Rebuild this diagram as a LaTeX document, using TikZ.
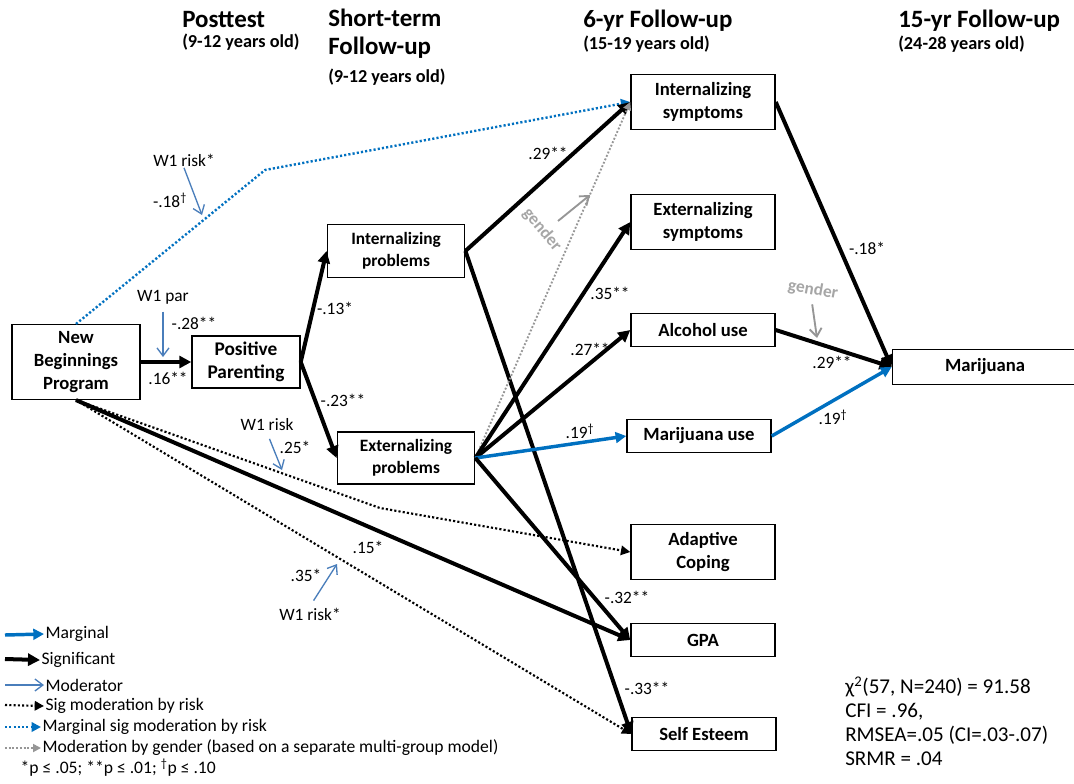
\documentclass[tikz,border=0pt]{standalone}
\usepackage{fontspec}
\setmainfont{Carlito}
\usetikzlibrary{arrows.meta}
\definecolor{margblue}{RGB}{0,112,192}
\definecolor{modblue}{RGB}{74,126,187}
\definecolor{gengray}{RGB}{150,150,150}
\definecolor{gentext}{RGB}{166,166,166}

\begin{document}
\begin{tikzpicture}[x=0.75pt, y=-0.75pt,
    box/.style={draw, line width=1.1pt, align=center, inner sep=2pt,
        font=\fontsize{14}{17}\selectfont\bfseries},
    smallbox/.style={font=\fontsize{13}{16.5}\selectfont\bfseries},
    wide/.style={minimum width=108pt, minimum height=41pt},
    flat/.style={minimum width=108pt, minimum height=25pt},
    coef/.style={font=\fontsize{13}{15}\selectfont, inner sep=1pt},
    modlabel/.style={font=\fontsize{13}{15}\selectfont, inner sep=1pt},
    genlabel/.style={font=\fontsize{13}{15}\selectfont\bfseries, text=gentext, inner sep=1pt},
    head/.style={anchor=west, inner sep=0pt, font=\fontsize{18.7}{22}\selectfont\bfseries},
    subhead/.style={anchor=west, inner sep=0pt, font=\fontsize{13.7}{15}\selectfont\bfseries},
    legtext/.style={anchor=west, inner sep=1pt, font=\fontsize{13.2}{15}\selectfont},
    sig/.style={line width=3pt, -{Triangle[length=9pt, width=9pt]}},
    marg/.style={line width=2.6pt, margblue, -{Triangle[length=8pt, width=8pt]}},
    mod/.style={line width=1pt, modblue, -{Straight Barb[length=6pt, width=9pt]}},
    genmod/.style={line width=1.4pt, gengray, -{Straight Barb[length=6pt, width=9pt]}},
    sigmod/.style={line width=1.6pt, dash pattern=on 1.6pt off 1.6pt, -{Triangle[length=7pt, width=7pt]}},
    margmod/.style={line width=1.8pt, margblue, dash pattern=on 1.6pt off 1.6pt, -{Triangle[length=7pt, width=7pt]}},
    gend/.style={line width=1.4pt, gengray, dash pattern=on 1.4pt off 1.4pt, -{Triangle[length=6pt, width=6pt]}}
]
\useasboundingbox (0,0) rectangle (1074,783);

% time points
\node[head] (h1) at (182,20) {Posttest};
\node[subhead] (h1s) at (182,42) {(9-12 years old)};
\node[head] (h2) at (328,18) {Short-term};
\node[head] (h2b) at (328,48) {Follow-up};
\node[subhead] (h2s) at (328,77) {(9-12 years old)};
\node[head] (h3) at (583,21) {6-yr Follow-up};
\node[subhead] (h3s) at (583,44) {(15-19 years old)};
\node[head] (h4) at (898,21) {15-yr Follow-up};
\node[subhead] (h4s) at (898,44) {(24-28 years old)};

% boxes
\node[box, minimum width=96pt, minimum height=56pt] (nbp) at (76,362) {New\\Beginnings\\Program};
\node[box, minimum width=81pt, minimum height=39pt, font=\fontsize{14.5}{17}\selectfont\bfseries] (par) at (246,362) {Positive\\Parenting};
\node[box, smallbox, minimum width=103pt, minimum height=40pt] (intp) at (396,251) {Internalizing\\problems};
\node[box, smallbox, minimum width=103pt, minimum height=39pt] (extp) at (406,458) {Externalizing\\problems};
\node[box, wide] (ints) at (703,102) {Internalizing\\symptoms};
\node[box, wide] (exts) at (703,222) {Externalizing\\symptoms};
\node[box, flat] (alc) at (703,330) {Alcohol use};
\node[box, flat] (mju) at (699,436) {Marijuana use};
\node[box, wide] (cope) at (703,552) {Adaptive\\Coping};
\node[box, flat] (gpa) at (703,640) {GPA};
\node[box, flat] (self) at (704,734) {Self Esteem};
\node[box, minimum width=139pt, minimum height=26pt] (mj) at (985,367) {Marijuana};

\coordinate (bendi) at (265,170);
\coordinate (bendc) at (380,508);

% paths
\draw[margmod] (nbp.north) -- (bendi) -- (ints.west);
\draw[sigmod] (nbp.south) -- (bendc) -- (cope.west);
\draw[sigmod] (nbp.south) -- (self.west);
\draw[sig] (nbp.south) -- (gpa.west);
\draw[sig] (nbp) -- (par);
\draw[sig] (par.east) -- (intp.west);
\draw[sig] (par.east) -- (extp.west);
\draw[sig] (intp.east) -- (ints.west);
\draw[sig] (intp.east) -- (self.west);
\draw[gend] (extp.east) -- (ints.west);
\draw[sig] (extp.east) -- (exts.west);
\draw[sig] (extp.east) -- (alc.west);
\draw[marg] (extp.east) -- (mju.west);
\draw[sig] (extp.east) -- (gpa.west);
\draw[sig] (ints.east) -- (mj.west);
\draw[sig] (alc.east) -- (mj.west);
\draw[marg] (mju.east) -- (mj.west);

% coefficients
\node[coef] (c16) at (168,378) {.16**};
\node[coef] (c28) at (194,323) {-.28**};
\node[coef] (c18a) at (170,200) {-.18\textsuperscript{†}};
\node[coef] (c13) at (335,308) {-.13*};
\node[coef] (c23) at (343,400) {-.23**};
\node[coef] (c25) at (295,447) {.25*};
\node[coef] (c15) at (368,547) {.15*};
\node[coef] (c35a) at (306,575) {.35*};
\node[coef] (c29a) at (548,153) {.29**};
\node[coef] (c35b) at (610,293) {.35**};
\node[coef] (c27) at (590,349) {.27**};
\node[coef] (c19a) at (580,431) {.19\textsuperscript{†}};
\node[coef] (c32) at (627,597) {-.32**};
\node[coef] (c33) at (647,688) {-.33**};
\node[coef] (c18b) at (867,248) {-.18*};
\node[coef] (c29b) at (832,362) {.29**};
\node[coef] (c19b) at (833,417) {.19\textsuperscript{†}};

% moderators
\node[modlabel] (wpar) at (163,297) {W1 par};
\coordinate (wpartip) at (163,357);
\draw[mod] (wpar.south) ++(0,6) -- (wpartip);
\node[modlabel] (wrisk1) at (184,160) {W1 risk*};
\coordinate (wrisk1tip) at (202,215);
\draw[mod] (wrisk1.south) -- (wrisk1tip);
\node[modlabel] (wrisk2) at (267,425) {W1 risk};
\coordinate (wrisk2tip) at (282,470);
\draw[mod, shorten <=5pt] (wrisk2.south) -- (wrisk2tip);
\node[modlabel] (wrisk3) at (310,614) {W1 risk*};
\coordinate (wrisk3tip) at (337,564);
\draw[mod, shorten <=5pt] (wrisk3.north) -- (wrisk3tip);
\node[genlabel, rotate=-50] (gen1) at (542,230) {gender};
\coordinate (gen1a) at (558,221);
\coordinate (gen1b) at (590,195);
\draw[genmod] (gen1a) -- (gen1b);
\node[genlabel, rotate=-10] (gen2) at (813,290) {gender};
\coordinate (gen2tip) at (817,338);
\draw[genmod, shorten <=4pt] (gen2.south) -- (gen2tip);

% legend
\node[legtext] (lg1) at (44,634) {Marginal};
\node[legtext] (lg2) at (40,660) {Significant};
\node[legtext] (lg3) at (44,685) {Moderator};
\node[legtext] (lg4) at (44,706) {Sig moderation by risk};
\node[legtext] (lg5) at (41,727) {Marginal sig moderation by risk};
\node[legtext] (lg6) at (41,748) {Moderation by gender (based on a separate multi-group model)};
\node[legtext] (lg7) at (19,768) {*p ≤ .05; **p ≤ .01; \textsuperscript{†}p ≤ .10};
\coordinate (lgs1) at (5,635);
\coordinate (lgs2) at (5,659);
\coordinate (lgs3) at (5,685);
\coordinate (lgs4) at (5,705);
\coordinate (lgs5) at (5,727);
\coordinate (lgs6) at (5,748);
\draw[marg] (lgs1) -- (lg1.west);
\draw[sig] (lgs2) -- (lg2.west);
\draw[mod] (lgs3) -- (lg3.west);
\draw[sigmod] (lgs4) -- (lg4.west);
\draw[margmod] (lgs5) -- (lg5.west);
\draw[gend] (lgs6) -- (lg6.west);

% fit
\node[anchor=north west, align=left, inner sep=0pt, font=\fontsize{15.8}{17.8}\selectfont] (fit) at (845,677)
    {χ\textsuperscript{2}(57, N=240) = 91.58\\CFI = .96,\\RMSEA=.05 (CI=.03-.07)\\SRMR = .04};
\end{tikzpicture}
\end{document}
